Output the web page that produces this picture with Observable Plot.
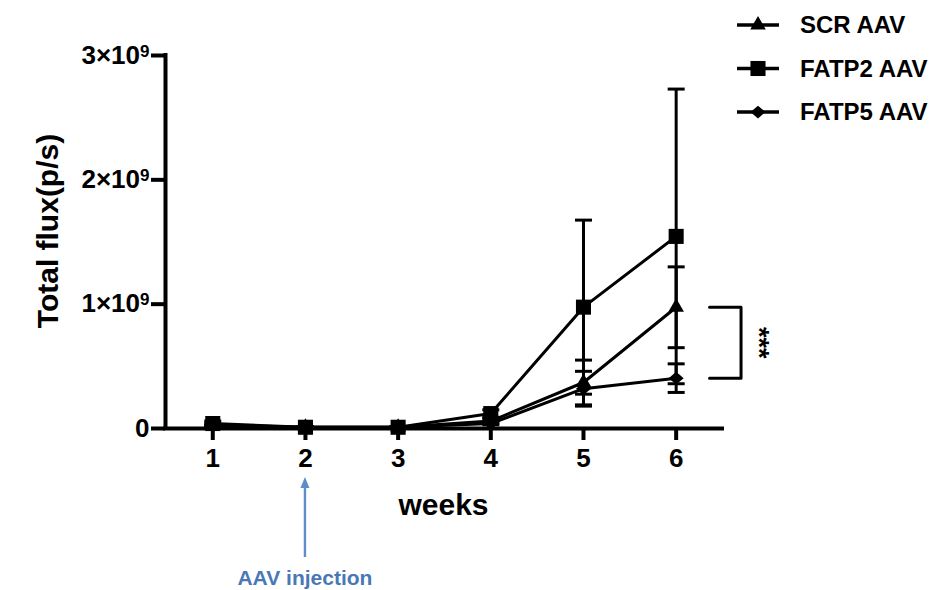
<!DOCTYPE html>
<html><head><meta charset="utf-8">
<script src="https://cdn.jsdelivr.net/npm/d3@7"></script>
<script src="https://cdn.jsdelivr.net/npm/@observablehq/plot@0.6"></script>
<style>
body{margin:0;background:#fff;}
svg{font-family:"Liberation Sans",Arial,sans-serif;}
</style>
</head><body><div id="chart"></div>
<script>
const weeks=[1,2,3,4,5,6];
const seriesNames=["SCR AAV","FATP2 AAV","FATP5 AAV"];
const scrMean=[0.03e9,0.01e9,0.01e9,0.06e9,0.37e9,0.975e9];
const scrSem=[0.01e9,0.005e9,0.005e9,0.02e9,0.18e9,0.325e9];
const fatp2Mean=[0.04e9,0.01e9,0.01e9,0.12e9,0.976e9,1.545e9];
const fatp2Sem=[0.02e9,0.005e9,0.005e9,0.03e9,0.70e9,1.185e9];
const fatp5Mean=[0.02e9,0.01e9,0.01e9,0.04e9,0.32e9,0.405e9];
const fatp5Sem=[0.01e9,0.005e9,0.005e9,0.01e9,0.14e9,0.115e9];
const yTicks=[0,1e9,2e9,3e9];
const yTickLabels=["0","1×10^9","2×10^9","3×10^9"];
const xLabel="weeks";
const yLabel="Total flux(p/s)";
const injectionLabel="AAV injection";
const injectionWeek=2;
const sigLabel="***";
const xDomain=[0.49,6.5];
const yDomain=[0,3e9];

// symbols
const capSymbol={draw(ctx,size){const r=Math.sqrt(size/Math.PI);ctx.moveTo(-r,0);ctx.lineTo(r,0);}};
const diamondSymbol={draw(ctx,size){const r=Math.sqrt(size/Math.PI);ctx.moveTo(0,-r*0.85);ctx.lineTo(r,0);ctx.lineTo(0,r*0.85);ctx.lineTo(-r,0);ctx.closePath();}};
const seriesMeans=[scrMean,fatp2Mean,fatp5Mean];
const seriesSems=[scrSem,fatp2Sem,fatp5Sem];
const seriesSymbols=["triangle","square",diamondSymbol];
const seriesR=[5.8,8.5,7.5];

const rows=[];
seriesNames.forEach((s,i)=>weeks.forEach((w,j)=>rows.push({series:s,idx:i,week:w,mean:seriesMeans[i][j],sem:seriesSems[i][j]})));
const caps=rows.flatMap(d=>[{week:d.week,y:d.mean+d.sem},{week:d.week,y:d.mean-d.sem}]);

const last=weeks.length-1;
const bracket=[
  {x:weeks[last]+0.36,y:scrMean[last]},
  {x:weeks[last]+0.70,y:scrMean[last]},
  {x:weeks[last]+0.70,y:fatp5Mean[last]},
  {x:weeks[last]+0.36,y:fatp5Mean[last]}
];

const plot=Plot.plot({
  width:940,height:590,
  marginLeft:165,marginRight:218,marginTop:55,marginBottom:162,
  style:{fontFamily:"Liberation Sans, Arial, sans-serif",background:"#fff",overflow:"visible",color:"#000"},
  x:{domain:xDomain},
  y:{domain:yDomain},
  marks:[
    Plot.ruleX(rows,{x:"week",y1:d=>d.mean-d.sem,y2:d=>d.mean+d.sem,stroke:"#000",strokeWidth:3}),
    Plot.dot(caps,{x:"week",y:"y",symbol:capSymbol,r:8.5,stroke:"#000",fill:"none",strokeWidth:3}),
    Plot.line(rows,{x:"week",y:"mean",z:"series",stroke:"#000",strokeWidth:3}),
    ...seriesNames.map((s,i)=>Plot.dot(rows.filter(d=>d.idx===i),{x:"week",y:"mean",symbol:seriesSymbols[i],r:seriesR[i],fill:"#000",stroke:"none"})),
    Plot.line(bracket,{x:"x",y:"y",stroke:"#000",strokeWidth:3}),
    Plot.text([{x:weeks[last]+0.89,y:(scrMean[last]+fatp5Mean[last])/2}],{x:"x",y:"y",text:()=>sigLabel,rotate:90,fontSize:27,fontWeight:"bold",fill:"#000"}),
    Plot.ruleX([xDomain[0]],{stroke:"#000",strokeWidth:4,strokeLinecap:"square"}),
    Plot.ruleY([yDomain[0]],{stroke:"#000",strokeWidth:4,strokeLinecap:"square"}),
    Plot.axisY({ticks:yTicks,tickFormat:d=>yTickLabels[yTicks.indexOf(d)],tickSize:14,tickPadding:2,fontSize:26,fontWeight:"bold",strokeWidth:4,label:null,fill:"#000"}),
    Plot.axisX({ticks:weeks,tickFormat:d=>String(d),tickSize:12,tickPadding:8,fontSize:26,fontWeight:"bold",strokeWidth:4,label:null,fill:"#000"})
  ]
});
document.getElementById("chart").appendChild(plot);

const svg=d3.select(plot);
// superscripts in y tick labels
svg.selectAll('g[aria-label="y-axis tick label"] text').each(function(){
  const t=this.textContent;
  if(t.includes("^")){
    const [base,exp]=t.split("^");
    this.textContent=base;
    d3.select(this).append("tspan").attr("dy","-0.42em").attr("font-size","17px").text(exp);
  }
});
const xs=plot.scale("x"), ys=plot.scale("y");
// axis titles
svg.append("text").attr("x",(xs.range[0]+xs.range[1])/2).attr("y",515).attr("text-anchor","middle")
  .attr("font-size",30).attr("font-weight","bold").attr("fill","#000").text(xLabel);
svg.append("text").attr("transform",`translate(58,231) rotate(-90)`).attr("text-anchor","middle")
  .attr("font-size",30).attr("font-weight","bold").attr("fill","#000").text(yLabel);
// injection arrow
const ax=xs.apply(injectionWeek);
svg.append("line").attr("x1",ax).attr("x2",ax).attr("y1",557).attr("y2",486).attr("stroke","#5f8dca").attr("stroke-width",2.4);
svg.append("path").attr("d",`M${ax},477 L${ax-4.5},488 L${ax+4.5},488 Z`).attr("fill","#5f8dca");
svg.append("text").attr("x",ax).attr("y",585).attr("text-anchor","middle").attr("font-size",21).attr("font-weight","bold")
  .attr("fill","#4a78b6").text(injectionLabel);
// legend
const legY=[25,68.5,112];
seriesNames.forEach((s,i)=>{
  const g=svg.append("g").attr("transform",`translate(0,${legY[i]})`);
  g.append("line").attr("x1",737).attr("x2",779).attr("stroke","#000").attr("stroke-width",3.5);
  const sym=typeof seriesSymbols[i]==="string"?(seriesSymbols[i]==="triangle"?d3.symbolTriangle:d3.symbolSquare):seriesSymbols[i];
  g.append("path").attr("transform","translate(758,0)").attr("d",d3.symbol(sym,seriesR[i]*seriesR[i]*Math.PI)()).attr("fill","#000");
  g.append("text").attr("x",800).attr("y",8).attr("text-anchor","start").attr("font-size",24).attr("font-weight","bold").attr("fill","#000").text(s);
});
</script>
</body></html>
